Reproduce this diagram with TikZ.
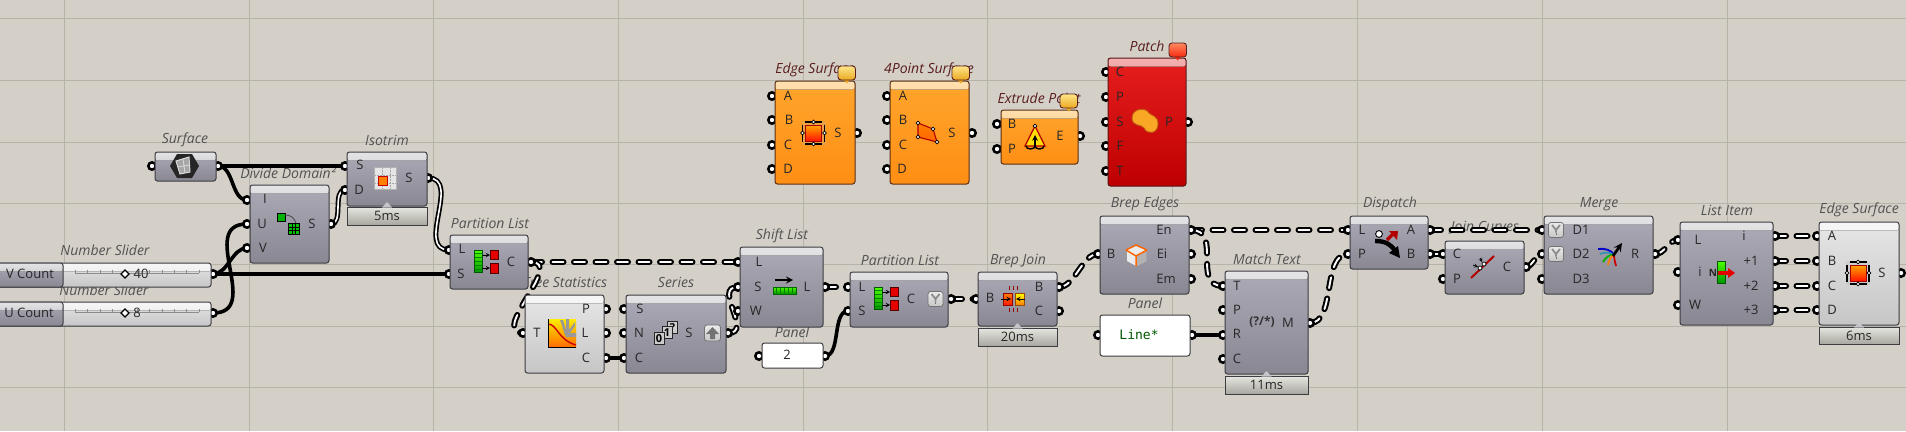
\documentclass[tikz,border=0pt]{standalone}
\usepackage{fontspec}
\setmainfont{Open Sans}
\newfontfamily\monof{DejaVu Sans Mono}
\usetikzlibrary{calc}
\definecolor{bgc}{HTML}{D4D0C8}
\definecolor{gridc}{HTML}{B6B3A9}
\definecolor{edgec}{HTML}{3C3C42}
\newcounter{txtn}
\tikzset{
 every node/.style={inner sep=0pt,outer sep=0pt},
 band/.style n args={2}{path picture={\fill[top color=#1,bottom color=#2,draw=none] (path picture bounding box.north west) rectangle ([yshift=-8.5pt]path picture bounding box.north east);}},
 greybox/.style={rectangle,rounded corners=2.5pt,draw=edgec,line width=1pt,top color=gtop,bottom color=gbot,band={gb1}{gb2}},
 lightbox/.style={rectangle,rounded corners=2.5pt,draw=edgec,line width=1pt,top color=ltop,bottom color=lbot,band={lb1}{lb2}},
 orangebox/.style={rectangle,rounded corners=2.5pt,draw=obrd,line width=1pt,top color=otop,bottom color=obot,band={ob1}{ob2}},
 redbox/.style={rectangle,rounded corners=2.5pt,draw=rbrd,line width=1pt,top color=rtop,bottom color=rbot,band={rb1}{rb2}},
 panelbox/.style={rectangle,rounded corners=2.5pt,draw=edgec,line width=1pt,fill=white},
 timerbox/.style={rectangle,draw=edgec,line width=1pt,top color=ttop,bottom color=tbot},
 port/.style={circle,draw=black,line width=2.5pt,fill=white,minimum size=7.4pt},
 ptxt/.style={font=\fontsize{13}{13}\selectfont,text=black!85},
 ltxt/.style={font=\fontsize{14}{14}\selectfont\itshape,text=black!68,yshift=-1pt},
 otxt/.style={font=\fontsize{14}{14}\selectfont\itshape,text=maroonc,yshift=-1pt},
 solidw/.style={draw=black,line width=3.6pt},
 treew/.style={draw=black,line width=1.7pt,double=white,double distance=1.6pt},
 pillw/.style={draw=black,line width=6pt,line cap=round,dash pattern=on 11pt off 10.5pt,postaction={draw=white,line width=1.9pt,line cap=round,dash pattern=on 11pt off 10.5pt}},
 btn/.style={rectangle,rounded corners=2.5pt,draw=black!55,line width=.8pt,top color=white!92!black,bottom color=black!22},
 dot/.style={circle,fill=white,draw=black,line width=.7pt,minimum size=3.6pt},
}
\definecolor{gtop}{HTML}{ACAAB6}\definecolor{gbot}{HTML}{888792}
\definecolor{gb1}{HTML}{E4E4E6}\definecolor{gb2}{HTML}{B4B3BC}
\definecolor{ltop}{HTML}{E6E6E6}\definecolor{lbot}{HTML}{C6C6C6}
\definecolor{lb1}{HTML}{F6F6F6}\definecolor{lb2}{HTML}{E4E4E4}
\definecolor{otop}{HTML}{FFA52C}\definecolor{obot}{HTML}{FF8E14}
\definecolor{ob1}{HTML}{FFE0B0}\definecolor{ob2}{HTML}{FFB048}
\definecolor{obrd}{HTML}{5A2E14}
\definecolor{rtop}{HTML}{E61E1E}\definecolor{rbot}{HTML}{BE0000}
\definecolor{rb1}{HTML}{F2B0B0}\definecolor{rb2}{HTML}{E84040}
\definecolor{rbrd}{HTML}{5A1414}
\definecolor{ttop}{HTML}{E6E6E0}\definecolor{tbot}{HTML}{A8A8A0}
\definecolor{maroonc}{HTML}{5A1E1E}
\definecolor{ybtop}{HTML}{FFE68A}\definecolor{ybbot}{HTML}{E9A820}
\definecolor{rbtop}{HTML}{FF8A60}\definecolor{rbbot}{HTML}{F52A10}
\newcommand{\bx}[6][]{\node[#2,minimum width={(#5-#3)*1pt},minimum height={(#6-#4)*1pt},#1] (#2-#3-#4) at ({(#3+#5)/2},{(#4+#6)/2}) {};}
\newcommand{\tx}[4][ptxt]{\stepcounter{txtn}\node[#1] (t\arabic{txtn}) at (#2,#3) {#4};}
\newcommand{\wire}[4]{\draw[#1] (#2) .. controls +(#4,0) and +(-#4,0) .. (#3);}
\newcommand{\timer}[5]{\node[timerbox,minimum width={(#2-#1)*1pt},minimum height={(#4-#3)*1pt}] (tm-#1) at ({(#1+#2)/2},{(#3+#4)/2}) {};
 \fill[gtop!55!ttop] ({(#1+#2)/2-5},#3+.5) -- ({(#1+#2)/2},#3-5) -- ({(#1+#2)/2+5},#3+.5) -- cycle;
 \tx{{(#1+#2)/2}}{{(#3+#4)/2}}{#5}}
\newcommand{\balloon}[5]{\fill[#4] (#1+5,#2+13) -- (#1+8.7,#2+17.5) -- (#1+12.5,#2+13) -- cycle;
 \draw[draw=#5,line width=.9pt,top color=#3,bottom color=#4,rounded corners=3pt] (#1,#2) rectangle ++(17.5,14);}
\newcommand{\edgeicon}[2]{\begin{scope}[shift={(#1,#2)}]
 \fill[black!30,opacity=.25] (-12,-12) rectangle (12,12);
 \draw[black,line width=1.1pt] (-8.5,-11) -- (8.5,-11) (-8.5,11) -- (8.5,11) (-11,-8.5) -- (-11,8.5) (11,-8.5) -- (11,8.5);
 \draw[red!65!black,line width=1pt,top color=orange!70!yellow,bottom color=red!85!orange] (-8,-8) rectangle (8,8);
 \foreach \a/\b in {0/-11,0/11,-11/0,11/0}{\node[dot] at (\a,\b) {};}
 \end{scope}}
\newcommand{\particon}[2]{\begin{scope}[shift={(#1,#2)}]
 \draw[green!35!black,line width=.6pt,top color=green!70!yellow,bottom color=green!60!black] (-4,-11) rectangle (4,11);
 \foreach \k in {-8,-4,0,4,8}{\draw[green!50!black,line width=.4pt] (-3.5,\k) -- (3.5,\k);}
 \draw[black,line width=.9pt,-stealth] (4,-6) -- (12,-6);
 \draw[black,line width=.9pt,-stealth] (4,7) -- (12,7);
 \draw[black!70!red,fill=red!90!black,line width=.5pt] (12,-11) rectangle (20,-1.5);
 \draw[black!70!red,fill=red!90!black,line width=.5pt] (12,2) rectangle (20,12);
 \end{scope}}
\newcommand{\ybtn}[2]{\node[btn,minimum width=15pt,minimum height=15pt] (b-#1-#2) at (#1,#2) {};
 \draw[white!55!black,line width=1.8pt] (#1-4,#2-5) -- (#1,#2) -- (#1+4,#2-5) (#1,#2) -- (#1,#2+2.5);
 \draw[black!55,line width=.8pt,densely dotted] (#1,#2+2.5) -- (#1,#2+6);}
\begin{document}
\begin{tikzpicture}[x=1pt,y=-1pt]
\useasboundingbox (0,0) rectangle (1906,431);
\clip (0,0) rectangle (1906,431);
\fill[bgc] (0,0) rectangle (1906,431);
\foreach \g in {64,249,433,618,803,987,1172,1357,1542,1727}{\draw[gridc,line width=.9pt] (\g,0) -- (\g,431);}
\foreach \g in {18,80,142,203,264,326,387}{\draw[gridc,line width=.9pt] (0,\g) -- (1906,\g);}
% pin coordinates
\coordinate (surfI) at (152,166); \coordinate (surfO) at (218,166);
\coordinate (isoS) at (345,166); \coordinate (isoD) at (345,190); \coordinate (isoO) at (428,178);
\coordinate (divI) at (247,200); \coordinate (divU) at (247,224); \coordinate (divV) at (247,248); \coordinate (divO) at (331,224);
\coordinate (vOut) at (213,274); \coordinate (uOut) at (213,313);
\coordinate (p1L) at (449,250); \coordinate (p1S) at (449,274); \coordinate (p1C) at (531,262);
\coordinate (trT) at (523,333); \coordinate (trP) at (606,309); \coordinate (trL) at (606,333); \coordinate (trC) at (606,358);
\coordinate (seS) at (624,309); \coordinate (seN) at (624,333); \coordinate (seC) at (624,358); \coordinate (seO) at (728,333);
\coordinate (shL) at (738,262); \coordinate (shS) at (738,287); \coordinate (shW) at (738,311); \coordinate (shO) at (825,287);
\coordinate (paI) at (759,356); \coordinate (paO) at (825,356);
\coordinate (p2L) at (848,287); \coordinate (p2S) at (848,311); \coordinate (p2C) at (951,299);
\coordinate (bjB) at (976,299); \coordinate (bjO) at (1059,287); \coordinate (bjC) at (1059,311);
\coordinate (beB) at (1098,254); \coordinate (beN) at (1191,230); \coordinate (beI) at (1191,254); \coordinate (beM) at (1191,279);
\coordinate (liI) at (1098,335); \coordinate (liO) at (1192,335);
\coordinate (mtT) at (1223,286); \coordinate (mtP) at (1223,310); \coordinate (mtR) at (1223,335); \coordinate (mtC) at (1223,359); \coordinate (mtM) at (1310,323);
\coordinate (diL) at (1348,230); \coordinate (diP) at (1348,254); \coordinate (diA) at (1430,230); \coordinate (diB) at (1430,254);
\coordinate (jcC) at (1443,254); \coordinate (jcP) at (1443,279); \coordinate (jcO) at (1526,267);
\coordinate (meA) at (1542,230); \coordinate (meB) at (1542,254); \coordinate (meC) at (1542,279); \coordinate (meR) at (1655,254);
\coordinate (lsL) at (1678,240); \coordinate (lsI) at (1678,272); \coordinate (lsW) at (1678,305);
\coordinate (ls0) at (1775,236); \coordinate (ls1) at (1775,261); \coordinate (ls2) at (1775,286); \coordinate (ls3) at (1775,310);
\coordinate (esA) at (1817,236); \coordinate (esB) at (1817,261); \coordinate (esC) at (1817,286); \coordinate (esD) at (1817,310); \coordinate (esO) at (1901,273);
% labels under everything
\tx[ltxt]{185}{139}{Surface}
\tx[ltxt]{387}{139}{Isotrim}
\tx[ltxt]{288}{172}{Divide Domain²}
\tx[ltxt]{105}{249}{Number Slider}
\tx[ltxt]{104}{289}{Number Slider}
\tx[ltxt]{490}{222}{Partition List}
\tx[ltxt]{565}{281}{Tree Statistics}
\tx[ltxt]{676}{281}{Series}
\tx[ltxt]{782}{235}{Shift List}
\tx[ltxt]{792}{331}{Panel}
\tx[ltxt]{900}{259}{Partition List}
\tx[ltxt]{1018}{260}{Brep Join}
\tx[ltxt]{1145}{203}{Brep Edges}
\tx[ltxt]{1145}{302}{Panel}
\tx[ltxt]{1267}{258}{Match Text}
\tx[ltxt]{1390}{203}{Dispatch}
\tx[ltxt]{1485}{227}{Join Curves}
\tx[ltxt]{1599}{203}{Merge}
\tx[ltxt]{1727}{209}{List Item}
\tx[ltxt]{1859}{209}{Edge Surface}
\tx[otxt]{815}{69}{Edge Surface}
\tx[otxt]{929}{69}{4Point Surface}
\tx[otxt]{1039}{97}{Extrude Point}
\tx[otxt]{1147}{45}{Patch}
% wires
\wire{solidw}{surfO}{isoS}{40}
\wire{solidw}{surfO}{divI}{16}
\wire{treew}{divO}{isoD}{13}
\wire{treew}{isoO}{p1L}{34}
\wire{solidw}{vOut}{p1S}{60}
\wire{solidw}{vOut}{divV}{15}
\wire{solidw}{uOut}{divU}{50}
\wire{pillw}{p1C}{shL}{60}
\wire{pillw}{p1C}{trT}{34}
\wire{solidw}{trC}{seC}{6}
\wire{pillw}{seO}{shS}{26}
\wire{pillw}{shO}{p2L}{6}
\wire{solidw}{paO}{p2S}{16}
\wire{pillw}{p2C}{bjB}{8}
\wire{pillw}{bjO}{beB}{16}
\wire{pillw}{beN}{diL}{50}
\wire{pillw}{beN}{mtT}{32}
\wire{solidw}{liO}{mtR}{8}
\wire{pillw}{mtM}{diP}{26}
\wire{pillw}{diA}{meA}{30}
\wire{pillw}{diB}{jcC}{4}
\wire{pillw}{jcO}{meB}{6}
\wire{pillw}{meR}{lsL}{10}
\wire{pillw}{ls0}{esA}{12}
\wire{pillw}{ls1}{esB}{12}
\wire{pillw}{ls2}{esC}{12}
\wire{pillw}{ls3}{esD}{12}
% ports
\foreach \p in {surfI,surfO,isoS,isoD,isoO,divI,divU,divV,divO,vOut,uOut,p1L,p1S,p1C,trT,trP,trL,trC,seS,seN,seC,seO,shL,shS,shW,shO,paI,paO,p2L,p2S,p2C,bjB,bjO,bjC,beB,beN,beI,beM,liI,liO,mtT,mtP,mtR,mtC,mtM,diL,diP,diA,diB,jcC,jcP,jcO,meA,meB,meC,meR,lsL,lsI,lsW,ls0,ls1,ls2,ls3,esA,esB,esC,esD,esO}{\node[port] (port-\p) at (\p) {};}
\foreach \n/\x/\y in {e1A/772/96,e1B/772/120,e1C/772/145,e1D/772/169,e1O/857/133,f1A/887/96,f1B/887/120,f1C/887/145,f1D/887/169,f1O/972/133,xB/997/124,xP/997/149,xO/1080/136,hC/1106/72,hP/1106/97,hS/1106/122,hF/1106/146,hT/1106/171,hO/1188/122}{\node[port] (port-\n) at (\x,\y) {};}
% component bodies
\bx{greybox}{155}{152}{216}{181}
\bx{greybox}{347}{152}{427}{206}
\bx{greybox}{250}{185}{329}{263}
\bx{greybox}{450}{235}{528}{289}
\bx{lightbox}{525}{295}{604}{373}
\bx{greybox}{626}{295}{726}{373}
\bx{greybox}{740}{247}{823}{327}
\bx{panelbox}{762}{343}{823}{368}
\bx{greybox}{850}{272}{948}{327}
\bx{greybox}{978}{272}{1057}{326}
\bx{greybox}{1100}{216}{1189}{294}
\bx{panelbox}{1100}{315}{1190}{356}
\bx{greybox}{1225}{271}{1308}{374}
\bx{greybox}{1350}{216}{1428}{269}
\bx{greybox}{1445}{241}{1524}{294}
\bx{greybox}{1544}{216}{1653}{294}
\bx{greybox}{1680}{222}{1773}{325}
\bx{lightbox}{1819}{222}{1899}{325}
\bx{orangebox}{775}{81}{855}{184}
\bx{orangebox}{890}{81}{969}{184}
\bx{orangebox}{1001}{110}{1078}{164}
\bx{redbox}{1108}{58}{1186}{186}
% sliders
\bx{lightbox}{-20}{263}{211}{287}
\bx{lightbox}{-20}{302}{211}{326}
\bx{greybox}{-20}{263}{63}{287}
\bx{greybox}{-20}{302}{63}{326}
\foreach \yy in {270,309}{
 \draw[black!45,line width=.6pt] (75,\yy+3) -- (199,\yy+3);
 \foreach \k in {0,...,10}{\draw[black!45,line width=.6pt] (75+12.4*\k,\yy) -- (75+12.4*\k,\yy+3);}
}
\foreach \yy in {274,313}{\draw[black,line width=1.2pt,fill=white] (121,\yy) -- (125,\yy-4) -- (129,\yy) -- (125,\yy+4) -- cycle;}
\tx{30}{274}{V Count}\tx{29}{313}{U Count}\tx{141}{274}{40}\tx{137}{313}{8}
% timers
\timer{347}{427}{207}{225}{5ms}
\timer{978}{1057}{328}{346}{20ms}
\timer{1225}{1308}{376}{394}{11ms}
\timer{1819}{1899}{327}{344}{6ms}
% balloons
\balloon{838}{66}{ybtop}{ybbot}{maroonc}
\balloon{952}{66}{ybtop}{ybbot}{maroonc}
\balloon{1060}{94}{ybtop}{ybbot}{maroonc}
\balloon{1169}{43}{rbtop}{rbbot}{maroonc}
% port letters
\tx{360}{165}{S}\tx{359}{190}{D}\tx{409}{178}{S}
\tx{265}{199}{I}\tx{262}{224}{U}\tx{263}{248}{V}\tx{312}{224}{S}
\tx{462}{249}{L}\tx{461}{274}{S}\tx{511}{262}{C}
\tx{537}{333}{T}\tx{586}{309}{P}\tx{585}{333}{L}\tx{586}{358}{C}
\tx{640}{309}{S}\tx{639}{333}{N}\tx{639}{358}{C}\tx{689}{333}{S}
\tx{759}{262}{L}\tx{758}{287}{S}\tx{756}{311}{W}\tx{807}{287}{L}
\tx{787}{355}{2}
\tx{862}{287}{L}\tx{862}{311}{S}\tx{911}{299}{C}
\tx{990}{298}{B}\tx{1039}{287}{B}\tx{1039}{311}{C}
\tx{1111}{254}{B}\tx{1164}{230}{En}\tx{1162}{254}{Ei}\tx{1166}{279}{Em}
\tx{1237}{286}{T}\tx{1237}{310}{P}\tx{1237}{334}{R}\tx{1237}{359}{C}\tx{1288}{323}{M}
\tx{1362}{230}{L}\tx{1362}{254}{P}\tx{1411}{230}{A}\tx{1411}{254}{B}
\tx{1457}{254}{C}\tx{1457}{279}{P}\tx{1507}{267}{C}
\tx{1581}{230}{D1}\tx{1581}{254}{D2}\tx{1581}{279}{D3}\tx{1635}{254}{R}
\tx{1698}{240}{L}\tx{1700}{272}{i}\tx{1695}{305}{W}\tx{1744}{236}{i}\tx{1751}{261}{+1}\tx{1751}{286}{+2}\tx{1751}{310}{+3}
\tx{1832}{236}{A}\tx{1832}{261}{B}\tx{1832}{286}{C}\tx{1832}{310}{D}\tx{1882}{273}{S}
\tx{788}{96}{A}\tx{789}{120}{B}\tx{788}{145}{C}\tx{788}{169}{D}\tx{838}{133}{S}
\tx{903}{96}{A}\tx{903}{120}{B}\tx{903}{145}{C}\tx{902}{169}{D}\tx{952}{133}{S}
\tx{1012}{124}{B}\tx{1012}{149}{P}\tx{1060}{136}{E}
\tx{1120}{72}{C}\tx{1120}{97}{P}\tx{1120}{122}{S}\tx{1120}{146}{F}\tx{1120}{171}{T}\tx{1169}{122}{P}
\node[font=\fontsize{13}{13}\selectfont\monof,text=green!35!black] (lineTxt) at (1139,335) {Line*};
% --- icons ---
% surface
\fill[black!85] (170,166) -- (177,154) -- (192,154) -- (199,166) -- (192,178) -- (177,178) -- cycle;
\draw[white!85!black,line width=1pt,fill=black!35] (176,161) -- (189,157) -- (190,172) -- (180,174) -- cycle;
\draw[white!85!black,line width=.8pt] (183,159) -- (185,173) (178,167) -- (190,165);
% isotrim
\fill[black!30] (374,167) rectangle (397,190);
\fill[white!90!black] (375,168) rectangle (396,189);
\draw[black!35,line width=.5pt,densely dotted] (375,175) -- (396,175) (375,183) -- (396,183) (382,168) -- (382,189) (390,168) -- (390,189);
\draw[red!80!black,line width=1pt,fill=orange] (378,176) rectangle (387,185);
% divide domain
\draw[black,line width=.9pt,fill=green!70!black] (277,213) rectangle (285,221);
\draw[black!70,line width=.9pt] (285,215) .. controls (291,215) and (295,218) .. (296,224);
\fill[black] (288,223) rectangle (300,235);
\foreach \i in {0,1,2}{\foreach \j in {0,1,2}{\fill[green!75!black] (289+3.7*\i,224+3.7*\j) rectangle ++(2.5,2.5);}}
% partitions
\particon{478}{261}
\particon{878}{298}
\ybtn{935.5}{299}
% merge buttons
\ybtn{1556}{230}
\ybtn{1556}{254}
% tree statistics
\shade[top color=yellow!85!orange,bottom color=orange!85!red] (548,319) rectangle (576,347);
\fill[black!40] (564,332) -- (560,320) -- (563,320) -- (566,330) -- (566,319) -- (569,319) -- (569,330) -- (575,322) -- (575,326) -- (570,333) -- (576,333) -- (576,337) -- (566,337) -- cycle;
\draw[red!80!black,line width=1.4pt] (548,324) .. controls (557,324) and (558,340) .. (576,345);
\draw[black,line width=.8pt] (548,319) -- (548,347) -- (576,347);
% series
\foreach \xx/\yy/\s in {672.5/327.5/?,667/332.5/1,659/338.5/0}{\node[draw=black!85,line width=1pt,fill=white!80!black,minimum width=10pt,minimum height=11.5pt,font=\fontsize{11}{11}\selectfont\bfseries] (ser\s) at (\xx,\yy) {\s};}
\node[btn,minimum width=16pt,minimum height=16pt] (serb) at (712.5,333) {};
\fill[white!45!black] (712.5,327) -- (719,334) -- (715,334) -- (715,339) -- (710,339) -- (710,334) -- (706,334) -- cycle;
% shift list
\draw[black,line width=2pt,-stealth] (775,280) -- (793,280);
\draw[green!40!black,line width=.5pt,top color=green!70!yellow,bottom color=green!55!black] (773,287) rectangle (796,294);
\foreach \k in {776,780,784,788,792}{\draw[green!50!black,line width=.4pt] (\k,288) -- (\k,293);}
% brep join
\draw[red!60!black,line width=.6pt,top color=orange,bottom color=red!80!orange] (1003,293) rectangle (1012,305);
\draw[orange!60!black,line width=.6pt,top color=yellow,bottom color=orange] (1015,293) rectangle (1024,305);
\draw[black,line width=1pt,-stealth] (1001,299) -- (1011,299);
\draw[black,line width=1pt,-stealth] (1025,299) -- (1016,299);
\foreach \q in {1009,1013,1017}{\draw[red!60!black,line width=.8pt] (\q,286) -- (\q,290) (\q,308) -- (\q,312);}
% brep edges
\fill[white!92!black] (1136,246) -- (1146,250) -- (1146,261) -- (1136,266) -- (1127,261) -- (1127,250) -- cycle;
\fill[black!30] (1136,256) -- (1146,250) -- (1146,261) -- (1136,266) -- cycle;
\draw[orange!80!red,line width=1.5pt,line join=round] (1136,256) -- (1136,266) (1136,256) -- (1126,250) (1136,256) -- (1147,250) (1126,250) -- (1136,245) -- (1147,250);
% match text
\node[font=\fontsize{12}{12}\selectfont\bfseries,text=black!80] (mtIco) at (1262,322) {(?/*)};
% dispatch
\draw[black,line width=4.4pt] (1375,241) .. controls (1385,241) and (1391,244) .. (1395,251);
\fill[black] (1389,253) -- (1398,246) -- (1400,258) -- cycle;
\draw[black,line width=.9pt,fill=white] (1379,234) circle (3.4);
\draw[red!70!black,line width=3.4pt] (1387,240) -- (1393,234);
\fill[red!70!black] (1389,231) -- (1398,231) -- (1397,240) -- cycle;
% join curves
\draw[red!70!black,line width=2pt] (1471,278) -- (1494,256);
\draw[black,line width=.7pt,fill=white] (1480,268) circle (2);
\draw[black,line width=.7pt,fill=white] (1484,264) circle (2);
\draw[black,line width=.7pt,-stealth] (1473,265) -- (1478,267);
\draw[black,line width=.7pt,-stealth] (1480,258) -- (1482,262);
% merge
\draw[blue!80!black,line width=1.8pt] (1598,249) .. controls (1604,248) and (1612,250) .. (1614,255);
\draw[cyan!70!black,line width=1.8pt] (1600,254) .. controls (1604,252) and (1610,252) .. (1613,255);
\draw[green!70!black,line width=1.8pt] (1603,262) .. controls (1606,257) and (1610,254) .. (1614,255);
\draw[orange,line width=1.8pt] (1608,265) .. controls (1609,260) and (1611,256) .. (1614,255);
\draw[red!80!black,line width=1.8pt] (1616,266) .. controls (1615,262) and (1614,258) .. (1614,255);
\draw[black,line width=2.6pt,-stealth] (1613,256) -- (1622,243);
% list item
\draw[green!35!black,line width=.6pt,top color=green!70!yellow,bottom color=green!60!black] (1717,261) rectangle (1725,283);
\fill[red!90!black] (1718,271) rectangle (1729,275);
\fill[red!90!black] (1728,268) -- (1735,273) -- (1728,278) -- cycle;
\node[font=\fontsize{10}{10}\selectfont\bfseries,text=black!85] (liN) at (1713,273) {N};
% edge surfaces
\edgeicon{813.5}{133}
\edgeicon{1858}{273}
% 4point
\draw[red!70!black,line width=1.1pt,top color=orange,bottom color=orange!80!red] (918,123) -- (933,129) -- (937,142) -- (918,137) -- cycle;
\foreach \a/\b in {918/123,933/129,937/142,918/137}{\node[dot] (fp\a) at (\a,\b) {};}
% extrude
\draw[red!70!black,line width=1.2pt,fill=yellow!80!orange] (1035,126) -- (1045,146) -- (1025,146) -- cycle;
\draw[black,line width=1.5pt,-stealth] (1035,146) -- (1035,135);
\draw[black,line width=1.4pt] (1026,146) arc (180:0:4.5 and 3) (1035,146) arc (180:0:4.5 and 3);
\node[dot] (exd) at (1035,126) {};
% patch
\definecolor{blobc}{HTML}{F9A825}\definecolor{blobe}{HTML}{C05A10}
\draw[blobe,line width=.9pt,fill=blobc] (1132,118) .. controls (1132,108) and (1146,107) .. (1149,113) .. controls (1151,116) and (1158,115) .. (1158,124) .. controls (1158,134) and (1147,135) .. (1144,128) .. controls (1142,124) and (1132,127) .. (1132,118) -- cycle;
\end{tikzpicture}
\end{document}
